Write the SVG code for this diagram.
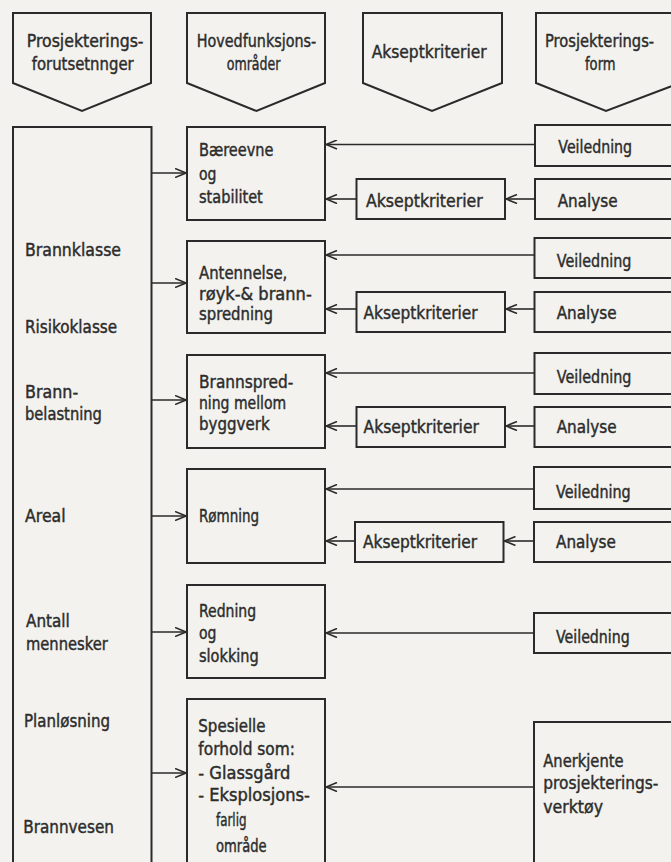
<svg xmlns="http://www.w3.org/2000/svg" width="671" height="862" viewBox="0 0 671 862">
<style>
.bx{fill:none;stroke:#2a2a2a;stroke-width:2;stroke-linejoin:miter}
.t{font-family:"DejaVu Sans",sans-serif;font-size:17.5px;fill:#2c2c2c;stroke:#2c2c2c;stroke-width:0.45}
.c{fill:none;stroke:#2a2a2a;stroke-width:1.6;marker-end:url(#ah)}
</style>
<defs>
<marker id="ah" viewBox="0 0 12 10" refX="11.5" refY="5" markerWidth="12" markerHeight="10" markerUnits="userSpaceOnUse" orient="auto">
<path d="M0.5,0.5 L11.5,5 L0.5,9.5" fill="none" stroke="#2a2a2a" stroke-width="1.6"/>
</marker>
</defs>
<rect x="0" y="0" width="671" height="862" fill="#f3f2ee"/>

<g id="hdr-forutsetninger">
<path class="bx" d="M13,13 L151,13 L151,83 L82,111 L13,83 Z"/>
<text class="t" transform="translate(26.7 46.5) scale(0.9 1)">Prosjekterings-</text>
<text class="t" transform="translate(31.7 70) scale(0.85 1)">forutsetnnger</text>
</g>
<g id="hdr-hovedfunksjon">
<path class="bx" d="M187,13 L325,13 L325,83 L256.5,111 L187,83 Z"/>
<text class="t" transform="translate(196.7 46.5) scale(0.82 1)">Hovedfunksjons-</text>
<text class="t" transform="translate(226.7 70) scale(0.72 1)">områder</text>
</g>
<g id="hdr-akseptkriterier">
<path class="bx" d="M363,13 L502,13 L502,83 L432,111 L363,83 Z"/>
<text class="t" transform="translate(371.7 58) scale(0.886 1)">Akseptkriterier</text>
</g>
<g id="hdr-form">
<path class="bx" d="M536,13 L680,13 L680,83 L606,111 L536,83 Z"/>
<text class="t" transform="translate(545 46.5) scale(0.84 1)">Prosjekterings-</text>
<text class="t" transform="translate(585 70) scale(0.75 1)">form</text>
</g>

<g id="forutsetninger">
<path class="bx" d="M13,870 L13,127 L151.5,127 L151.5,870"/>
<text class="t" transform="translate(25 256) scale(0.9 1)">Brannklasse</text>
<text class="t" transform="translate(25 332.5) scale(0.87 1)">Risikoklasse</text>
<text class="t" transform="translate(25 398) scale(0.91 1)">Brann-</text>
<text class="t" transform="translate(25 420) scale(0.84 1)">belastning</text>
<text class="t" transform="translate(25 521.7) scale(0.9 1)">Areal</text>
<text class="t" transform="translate(26 626.7) scale(0.87 1)">Antall</text>
<text class="t" transform="translate(26 650) scale(0.84 1)">mennesker</text>
<text class="t" transform="translate(24 726.7) scale(0.86 1)">Planløsning</text>
<text class="t" transform="translate(23.3 832.7) scale(0.87 1)">Brannvesen</text>
</g>

<g id="baereevne">
<rect class="bx" x="187" y="127" width="138" height="93"/>
<text class="t" transform="translate(199 156) scale(0.83 1)">Bæreevne</text>
<text class="t" transform="translate(199 180) scale(0.8 1)">og</text>
<text class="t" transform="translate(199 203) scale(0.83 1)">stabilitet</text>
</g>
<g id="antennelse">
<rect class="bx" x="187" y="241" width="138" height="92"/>
<text class="t" transform="translate(199 279) scale(0.85 1)">Antennelse,</text>
<text class="t" transform="translate(199 300) scale(0.93 1)">røyk-&amp; brann-</text>
<text class="t" transform="translate(199 320) scale(0.85 1)">spredning</text>
</g>
<g id="brannspredning">
<rect class="bx" x="187" y="355" width="138" height="93"/>
<text class="t" transform="translate(199 388) scale(0.88 1)">Brannspred-</text>
<text class="t" transform="translate(199 409) scale(0.8 1)">ning mellom</text>
<text class="t" transform="translate(199 430) scale(0.86 1)">byggverk</text>
</g>
<g id="romning">
<rect class="bx" x="187" y="469" width="138" height="94"/>
<text class="t" transform="translate(199 521.7) scale(0.77 1)">Rømning</text>
</g>
<g id="redning">
<rect class="bx" x="187" y="585" width="138" height="93"/>
<text class="t" transform="translate(199 616.7) scale(0.8 1)">Redning</text>
<text class="t" transform="translate(199 638.5) scale(0.8 1)">og</text>
<text class="t" transform="translate(199 661.7) scale(0.83 1)">slokking</text>
</g>
<g id="spesielle">
<path class="bx" d="M187,870 L187,699 L325,699 L325,870"/>
<text class="t" transform="translate(198.3 731.7) scale(0.86 1)">Spesielle</text>
<text class="t" transform="translate(198.3 755) scale(0.88 1)">forhold som:</text>
<text class="t" transform="translate(198.3 778.5) scale(0.93 1)">- Glassgård</text>
<text class="t" transform="translate(198.3 801) scale(0.93 1)">- Eksplosjons-</text>
<text class="t" transform="translate(216 826) scale(0.68 1)">farlig</text>
<text class="t" transform="translate(216 852) scale(0.75 1)">område</text>
</g>

<g id="veiledning1">
<rect class="bx" x="535" y="125" width="150" height="41"/>
<text class="t" transform="translate(558.3 153.3) scale(0.81 1)">Veiledning</text>
</g>
<g id="analyse1">
<rect class="bx" x="535" y="179" width="150" height="40"/>
<text class="t" transform="translate(557.7 206.7) scale(0.87 1)">Analyse</text>
</g>
<g id="aksept1">
<rect class="bx" x="356.5" y="179" width="148.5" height="40"/>
<text class="t" transform="translate(366 206.7) scale(0.9 1)">Akseptkriterier</text>
</g>

<g id="veiledning2">
<rect class="bx" x="534.5" y="238" width="150" height="40"/>
<text class="t" transform="translate(556.7 266.5) scale(0.82 1)">Veiledning</text>
</g>
<g id="analyse2">
<rect class="bx" x="534.5" y="292" width="150" height="40"/>
<text class="t" transform="translate(556.7 318.5) scale(0.87 1)">Analyse</text>
</g>
<g id="aksept2">
<rect class="bx" x="356.5" y="292" width="148.5" height="40"/>
<text class="t" transform="translate(363.5 318.5) scale(0.88 1)">Akseptkriterier</text>
</g>

<g id="veiledning3">
<rect class="bx" x="534.5" y="353" width="150" height="41"/>
<text class="t" transform="translate(556.7 383.3) scale(0.82 1)">Veiledning</text>
</g>
<g id="analyse3">
<rect class="bx" x="534.5" y="407" width="150" height="40"/>
<text class="t" transform="translate(556.7 433.3) scale(0.87 1)">Analyse</text>
</g>
<g id="aksept3">
<rect class="bx" x="356.5" y="407" width="148.5" height="40"/>
<text class="t" transform="translate(363.5 433.3) scale(0.89 1)">Akseptkriterier</text>
</g>

<g id="veiledning4">
<rect class="bx" x="534" y="467" width="150" height="42"/>
<text class="t" transform="translate(556 498.3) scale(0.82 1)">Veiledning</text>
</g>
<g id="analyse4">
<rect class="bx" x="534" y="522" width="150" height="40"/>
<text class="t" transform="translate(556 548.3) scale(0.87 1)">Analyse</text>
</g>
<g id="aksept4">
<rect class="bx" x="355" y="522" width="148.5" height="40"/>
<text class="t" transform="translate(363 548.3) scale(0.88 1)">Akseptkriterier</text>
</g>

<g id="veiledning5">
<rect class="bx" x="534" y="613" width="150" height="40"/>
<text class="t" transform="translate(556 642.7) scale(0.81 1)">Veiledning</text>
</g>

<g id="anerkjente">
<path class="bx" d="M534,870 L534,722 L680,722"/>
<text class="t" transform="translate(543.3 766.7) scale(0.84 1)">Anerkjente</text>
<text class="t" transform="translate(543.3 789) scale(0.88 1)">prosjekterings-</text>
<text class="t" transform="translate(543.3 813) scale(0.9 1)">verktøy</text>
</g>

<g id="connectors">
<line class="c" x1="151.5" y1="173" x2="186" y2="173"/>
<line class="c" x1="151.5" y1="283" x2="186" y2="283"/>
<line class="c" x1="151.5" y1="400" x2="186" y2="400"/>
<line class="c" x1="151.5" y1="516" x2="186" y2="516"/>
<line class="c" x1="151.5" y1="632" x2="186" y2="632"/>
<line class="c" x1="151.5" y1="773" x2="186" y2="773"/>

<line class="c" x1="535" y1="144.5" x2="326" y2="144.5"/>
<line class="c" x1="356.5" y1="199" x2="326" y2="199"/>
<line class="c" x1="535" y1="199" x2="506" y2="199"/>

<line class="c" x1="534.5" y1="255" x2="326" y2="255"/>
<line class="c" x1="356.5" y1="309" x2="326" y2="309"/>
<line class="c" x1="534.5" y1="309" x2="506" y2="309"/>

<line class="c" x1="534.5" y1="373" x2="326" y2="373"/>
<line class="c" x1="356.5" y1="426" x2="326" y2="426"/>
<line class="c" x1="534.5" y1="426" x2="506" y2="426"/>

<line class="c" x1="534" y1="489" x2="326" y2="489"/>
<line class="c" x1="355" y1="541" x2="326" y2="541"/>
<line class="c" x1="534" y1="541" x2="504.5" y2="541"/>

<line class="c" x1="534" y1="633" x2="326" y2="633"/>

<line class="c" x1="534" y1="787" x2="326" y2="787"/>
</g>
</svg>
